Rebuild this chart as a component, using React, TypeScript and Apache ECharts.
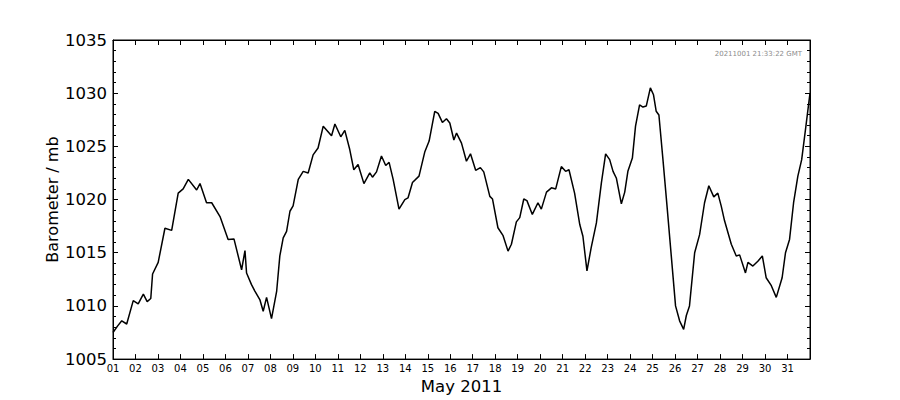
import { useEffect, useRef } from 'react';
import * as echarts from 'echarts';

// time in days (1.0 = 1 May 2011 00:00), pressure in mb
const days = [
  1.0, 1.2, 1.39, 1.61, 1.9, 2.12, 2.35, 2.52, 2.68, 2.76, 3.01, 3.31, 3.61, 3.9,
  4.12, 4.35, 4.72, 4.87, 5.16, 5.39, 5.76, 6.12, 6.38, 6.72, 6.87, 6.94, 7.16,
  7.31, 7.53, 7.68, 7.83, 8.05, 8.28, 8.42, 8.57, 8.72, 8.87, 9.01, 9.24, 9.46,
  9.68, 9.9, 10.12, 10.35, 10.72, 10.87, 11.13, 11.31, 11.53, 11.71, 11.9, 12.16,
  12.42, 12.54, 12.72, 12.94, 13.13, 13.28, 13.46, 13.72, 13.98, 14.12, 14.32,
  14.61, 14.87, 15.06, 15.31, 15.46, 15.65, 15.83, 15.98, 16.16, 16.28, 16.5,
  16.72, 16.9, 17.13, 17.34, 17.49, 17.76, 17.88, 18.12, 18.35, 18.57, 18.72,
  18.94, 19.09, 19.27, 19.41, 19.65, 19.9, 20.05, 20.28, 20.5, 20.69, 20.94,
  21.13, 21.28, 21.53, 21.76, 21.9, 22.08, 22.27, 22.5, 22.72, 22.91, 23.09,
  23.24, 23.39, 23.61, 23.76, 23.9, 24.1, 24.24, 24.42, 24.57, 24.72, 24.9,
  25.04, 25.16, 25.28, 25.46, 25.64, 25.83, 26.02, 26.2, 26.38, 26.5, 26.64,
  26.87, 27.09, 27.31, 27.5, 27.72, 27.9, 28.05, 28.2, 28.5, 28.72, 28.87, 29.13,
  29.24, 29.46, 29.68, 29.88, 30.05, 30.28, 30.5, 30.76, 30.91, 31.09, 31.27,
  31.46, 31.63, 31.8, 32.0,
];

const pressure = [
  1007.5, 1008.1, 1008.6, 1008.3, 1010.5, 1010.2, 1011.1, 1010.4, 1010.7, 1013.0,
  1014.1, 1017.3, 1017.1, 1020.6, 1021.0, 1021.9, 1020.9, 1021.5, 1019.7, 1019.7,
  1018.4, 1016.25, 1016.3, 1013.4, 1015.2, 1013.1, 1012.0, 1011.4, 1010.6, 1009.5,
  1010.8, 1008.8, 1011.4, 1014.7, 1016.4, 1017.0, 1018.9, 1019.4, 1021.9, 1022.65,
  1022.5, 1024.2, 1024.85, 1026.9, 1026.0, 1027.1, 1025.9, 1026.5, 1024.7, 1022.8,
  1023.3, 1021.5, 1022.5, 1022.1, 1022.6, 1024.1, 1023.2, 1023.5, 1021.9, 1019.1,
  1020.0, 1020.15, 1021.6, 1022.2, 1024.5, 1025.5, 1028.3, 1028.1, 1027.25, 1027.6,
  1027.2, 1025.6, 1026.25, 1025.3, 1023.6, 1024.3, 1022.75, 1023.0, 1022.6, 1020.3,
  1020.05, 1017.35, 1016.6, 1015.15, 1015.8, 1017.9, 1018.3, 1020.05, 1019.9, 1018.6,
  1019.7, 1019.1, 1020.7, 1021.1, 1021.0, 1023.1, 1022.65, 1022.8, 1020.6, 1017.65,
  1016.55, 1013.3, 1015.5, 1017.8, 1021.55, 1024.3, 1023.75, 1022.65, 1022.0, 1019.6,
  1020.7, 1022.65, 1023.9, 1026.9, 1028.9, 1028.7, 1028.8, 1030.5, 1029.85, 1028.3,
  1027.95, 1023.75, 1019.4, 1014.7, 1010.0, 1008.6, 1007.8, 1009.1, 1010.0, 1015.0,
  1016.7, 1019.7, 1021.3, 1020.25, 1020.6, 1019.4, 1018.0, 1015.8, 1014.7, 1014.8,
  1013.1, 1014.1, 1013.75, 1014.2, 1014.7, 1012.65, 1011.9, 1010.8, 1012.65, 1015.0,
  1016.25, 1019.7, 1022.2, 1023.75, 1026.6, 1030.0,
];

const dayLabels = [
  '01', '02', '03', '04', '05', '06', '07', '08', '09', '10', '11', '12', '13', '14',
  '15', '16', '17', '18', '19', '20', '21', '22', '23', '24', '25', '26', '27', '28',
  '29', '30', '31',
];

const FONT = 'DejaVu Sans';

export default function App() {
  const chartRef = useRef<HTMLDivElement>(null);

  useEffect(() => {
    if (!chartRef.current) return;
    const chart = echarts.init(chartRef.current, undefined, { renderer: 'svg' });

    const tickInside = { show: true, inside: true, length: 5, lineStyle: { color: '#000' } };
    const minorInside = { show: true, splitNumber: 5, length: 3, lineStyle: { color: '#000' } };

    const option: echarts.EChartsOption = {
      animation: false,
      textStyle: { fontFamily: FONT },
      grid: {
        left: 113,
        right: 90,
        top: 40,
        bottom: 40,
        show: true,
        borderColor: '#000',
        borderWidth: 1,
      },
      xAxis: [
        {
          type: 'value',
          position: 'bottom',
          min: 1,
          max: 32,
          interval: 1,
          axisLine: { show: true, lineStyle: { color: '#000' } },
          axisTick: tickInside,
          splitLine: { show: false },
          axisLabel: {
            color: '#000',
            fontSize: 10,
            margin: 4,
            fontFamily: FONT,
            formatter: (v: number) => dayLabels[v - 1] ?? '',
          },
          name: 'May 2011',
          nameLocation: 'middle',
          nameGap: 18,
          nameTextStyle: { color: '#000', fontSize: 16.5, fontFamily: FONT },
        },
        {
          type: 'value',
          position: 'top',
          min: 1,
          max: 32,
          interval: 1,
          axisLine: { show: true, lineStyle: { color: '#000' } },
          axisTick: tickInside,
          splitLine: { show: false },
          axisLabel: { show: false },
        },
      ],
      yAxis: [
        {
          type: 'value',
          position: 'left',
          min: 1005,
          max: 1035,
          interval: 5,
          axisLine: { show: true, lineStyle: { color: '#000' } },
          axisTick: tickInside,
          minorTick: minorInside,
          splitLine: { show: false },
          minorSplitLine: { show: false },
          axisLabel: {
            color: '#000',
            fontSize: 16.5,
            margin: 6,
            fontFamily: FONT,
            formatter: (v: number) => String(v),
          },
          name: 'Barometer / mb',
          nameLocation: 'middle',
          nameGap: 53,
          nameMoveOverlap: false,
          nameTextStyle: { color: '#000', fontSize: 16, fontFamily: FONT },
        } as any,
        {
          type: 'value',
          position: 'right',
          min: 1005,
          max: 1035,
          interval: 5,
          axisLine: { show: true, lineStyle: { color: '#000' } },
          axisTick: tickInside,
          minorTick: minorInside,
          splitLine: { show: false },
          minorSplitLine: { show: false },
          axisLabel: { show: false },
        },
      ],
      graphic: [
        {
          type: 'text',
          right: 98,
          top: 50,
          style: {
            text: '20211001 21:33:22 GMT',
            fill: '#8c8c8c',
            fontSize: 7,
            fontFamily: FONT,
            align: 'right',
          },
        },
      ],
      series: [
        {
          type: 'line',
          xAxisIndex: 0,
          yAxisIndex: 0,
          data: days.map((d, i) => [d, pressure[i]]),
          showSymbol: false,
          symbol: 'none',
          lineStyle: { color: '#000', width: 1.5 },
          silent: true,
        },
      ],
    };

    chart.setOption(option);
    return () => chart.dispose();
  }, []);

  return (
    <div
      ref={chartRef}
      style={{ position: 'fixed', left: 0, top: 0, width: 900, height: 400, background: '#fff' }}
    />
  );
}
